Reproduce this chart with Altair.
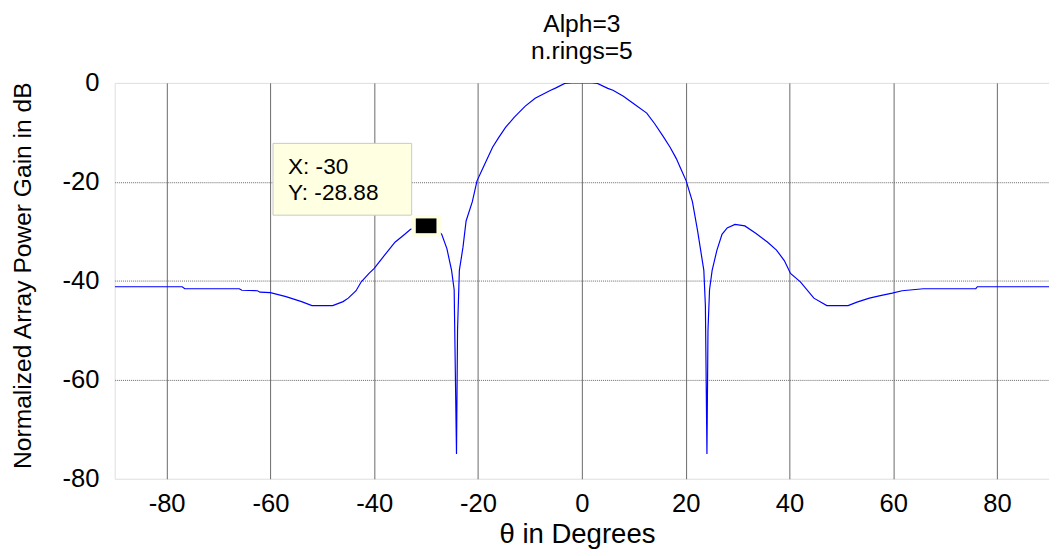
import altair as alt
import pandas as pd

# ---- data ----
theta = [-90, -77, -76.5, -66, -65.5, -62.5, -62, -60, -57, -54, -52, -48, -46, -45,
         -43.5, -42.5, -41, -40, -38, -36, -34, -33, -31, -30, -29, -28, -27, -26,
         -25.1, -24.6, -24.15, -23.95, -23.6, -22.9, -22.3, -21.1, -20.2, -19.1, -17.2,
         -16, -14.7, -13, -10.9, -9, -7.7, -6, -5, -3.3, -2, 0, 2, 3, 5, 6, 8, 10,
         12.5, 14, 15.6, 17, 18.2, 19, 20.1, 21.3, 22.3, 22.9, 23.5, 23.8, 24.1, 24.3,
         24.6, 25.1, 26, 27, 28, 29.5, 31.4, 33.5, 35.8, 37.5, 39, 40.2, 42.1, 44.7,
         47.2, 51.3, 53, 55.4, 57.5, 59.8, 61.7, 65.8, 75.9, 76.2, 90]
gain = [-41.2, -41.2, -41.6, -41.6, -41.9, -42.0, -42.3, -42.4, -43.2, -44.2, -45.0,
        -45.0, -44.2, -43.5, -42.0, -40.2, -38.5, -37.5, -34.8, -32.2, -30.5, -29.6,
        -29.0, -28.88, -28.9, -29.5, -30.6, -33.5, -37.9, -41.8, -75.0, -50.0, -37.9,
        -33.2, -27.9, -24.0, -19.8, -17.3, -13.0, -11.0, -9.0, -6.9, -4.7, -3.1,
        -2.4, -1.5, -1.0, -0.1, 0.0, 0.0, 0.0, -0.1, -1.1, -1.5, -2.7, -4.2, -6.1,
        -8.2, -10.7, -13.0, -15.3, -17.2, -19.8, -24.0, -29.9, -33.9, -37.9, -45.0,
        -75.0, -50.0, -41.8, -37.9, -33.9, -30.6, -29.3, -28.6, -28.9, -30.4, -32.2,
        -33.8, -35.9, -38.5, -40.2, -43.5, -45.0, -45.0, -44.3, -43.5, -43.0, -42.5,
        -42.0, -41.6, -41.6, -41.2, -41.2]

tip_x = [-30]
tip_y = [-28.88]

x_ticks = [-80, -60, -40, -20, 0, 20, 40, 60, 80]
y_ticks = [-80, -60, -40, -20, 0]

title_lines = ["Alph=3", "n.rings=5"]
x_title = "\u03b8 in Degrees"
y_title = "Normalized Array Power Gain in dB"

FONT = "Liberation Sans"
HYPHEN_EXPR = "replace(datum.label, '\u2212', '-')"

df = pd.DataFrame({"theta": theta, "gain": gain})
tip = pd.DataFrame({"theta": tip_x, "gain": tip_y,
                    "lx": [f"X: {v:g}" for v in tip_x],
                    "ly": [f"Y: {v:.2f}" for v in tip_y]})

xscale = alt.Scale(domain=[-90, 90], nice=False, zero=False)
yscale = alt.Scale(domain=[-80, 0], nice=False, zero=False)

y_grid_opacity = alt.condition("datum.value == 0 || datum.value == -80",
                               alt.value(0), alt.value(1))

xaxis = alt.Axis(values=x_ticks, title=x_title, grid=True, gridColor="#444444",
                 gridWidth=1, gridOpacity=0.8, domain=False, ticks=False,
                 labelFont=FONT, labelFontSize=26, labelColor="black", labelPadding=12,
                 labelExpr=HYPHEN_EXPR,
                 titleFont=FONT, titleFontSize=28, titleFontWeight="normal",
                 titleColor="black", titleX=470, titleY=65, titleBaseline="alphabetic",
                 labelFlush=False)
yaxis = alt.Axis(values=y_ticks, title=y_title, grid=True, gridColor="#666666",
                 gridDash=[1, 1], gridWidth=1, gridOpacity=y_grid_opacity,
                 domain=False, ticks=False,
                 labelFont=FONT, labelFontSize=26, labelColor="black", labelPadding=16,
                 labelExpr=HYPHEN_EXPR,
                 titleFont=FONT, titleFontSize=25, titleFontWeight="normal",
                 titleColor="black", titleX=-85.5, titleY=195.5, titleAngle=-90,
                 titleBaseline="alphabetic", titleAlign="center", labelFlush=False)

line = alt.Chart(df).mark_line(color="#0000FF", strokeWidth=1.2, clip=True).encode(
    x=alt.X("theta:Q", scale=xscale, axis=xaxis),
    y=alt.Y("gain:Q", scale=yscale, axis=yaxis),
)

base = alt.Chart(tip).encode(
    x=alt.X("theta:Q", scale=xscale),
    y=alt.Y("gain:Q", scale=yscale),
)

box = base.mark_rect(fill="#FFFFE1", stroke="#C8C8C8", strokeWidth=1,
                     xOffset=-155.7, x2Offset=-14.7, yOffset=-83.8, y2Offset=-10.8).encode(
    x2="theta:Q", y2="gain:Q")

txt1 = base.mark_text(align="left", baseline="alphabetic", dx=-140.5, dy=-53,
                      font=FONT, fontSize=23, color="black").encode(text="lx:N")
txt2 = base.mark_text(align="left", baseline="alphabetic", dx=-140.5, dy=-26.5,
                      font=FONT, fontSize=23, color="black").encode(text="ly:N")

mk_bg = base.mark_point(shape="M-1,-0.733L1,-0.733L1,0.733L-1,0.733Z", filled=True,
                        fill="#FFFFE1", opacity=1, size=900, strokeWidth=0)
mk = base.mark_point(shape="M-1,-0.714L1,-0.714L1,0.714L-1,0.714Z", filled=True,
                     fill="black", opacity=1, size=441, strokeWidth=0)

chart = alt.layer(line, box, txt1, txt2, mk_bg, mk).properties(
    width=950, height=402.5,
    title=alt.TitleParams(text=title_lines, font=FONT, fontSize=25,
                          fontWeight="normal", color="black", lineHeight=27.5,
                          anchor="middle", baseline="bottom", offset=19, dy=38),
    autosize=alt.AutoSizeParams(type="none"),
    padding={"left": 108.5, "top": 71.5, "right": 0, "bottom": 80},
).configure_view(stroke="black", strokeWidth=1).configure(background="white")

chart.save("out.html", embed_options={"renderer": "svg", "actions": False})
